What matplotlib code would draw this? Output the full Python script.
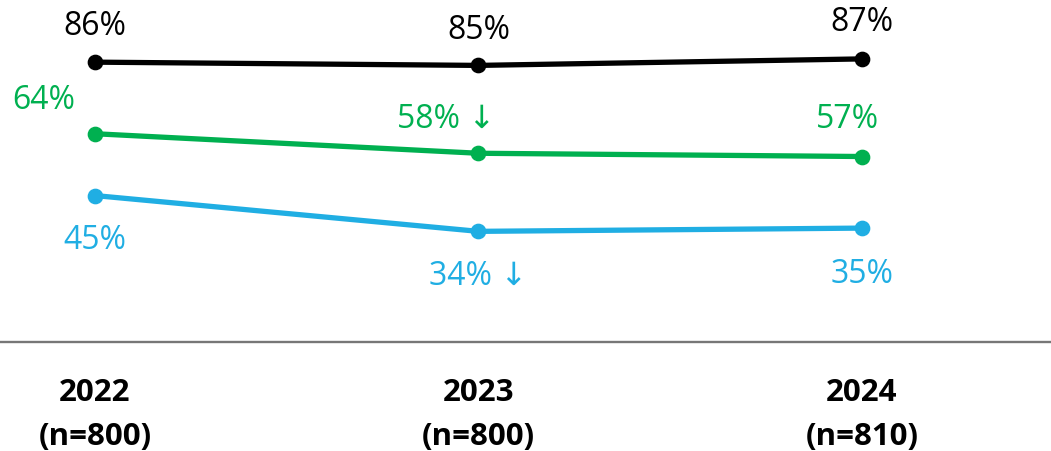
import matplotlib.pyplot as plt

plt.rcParams['font.family'] = ['Open Sans', 'DejaVu Sans']

years = ['2022', '2023', '2024']
sample_sizes = ['(n=800)', '(n=800)', '(n=810)']
black_vals = [86, 85, 87]
green_vals = [64, 58, 57]
blue_vals = [45, 34, 35]
black_labels = ['86%', '85%', '87%']
green_labels = ['64%', '58% \u2193', '57%']
blue_labels = ['45%', '34% \u2193', '35%']

BLACK = '#000000'
GREEN = '#00B050'
BLUE = '#20AEE3'

fig = plt.figure(figsize=(10.51, 4.51), dpi=100)
ax = fig.add_axes([0, 0.2417, 1, 0.7583])

x = list(range(len(years)))
for vals, col in [(black_vals, BLACK), (green_vals, GREEN), (blue_vals, BLUE)]:
    ax.plot(x, vals, color=col, lw=3.8, marker='o', markersize=10.3,
            solid_capstyle='round', zorder=3)

# label offsets in pixels (dx, dy) from each point, baseline anchored
black_off = [(0, 27), (0, 26.7), (0, 27.4)]
green_off = [(-51.5, 25.1), (-32, 25.3), (-14.7, 28.1)]
blue_off = [(0, -53.7), (0, -53.7), (0, -54.4)]

for vals, labels, offs, col in [(black_vals, black_labels, black_off, BLACK),
                                (green_vals, green_labels, green_off, GREEN),
                                (blue_vals, blue_labels, blue_off, BLUE)]:
    for xi, v, lab, (dx, dy) in zip(x, vals, labels, offs):
        ax.annotate(lab, (xi, v), xytext=(dx, dy), textcoords='offset pixels',
                    ha='center', va='baseline', fontsize=23, color=col)

ax.set_xlim(-0.2477, 2.493)
ax.set_ylim(0, 105.1)

for s in ['top', 'right', 'left']:
    ax.spines[s].set_visible(False)
ax.spines['bottom'].set_color('#777777')
ax.spines['bottom'].set_linewidth(1.7)
ax.set_yticks([])
ax.set_xticks([])

# two-line category labels under the axis line
for xi, yr, n in zip(x, years, sample_sizes):
    ax.annotate(yr, (xi, 0), xycoords=('data', 'axes fraction'),
                xytext=(0, -58.7), textcoords='offset pixels',
                ha='center', va='baseline', fontsize=22.5, fontweight='bold',
                annotation_clip=False)
    ax.annotate(n, (xi, 0), xycoords=('data', 'axes fraction'),
                xytext=(0, -103.5), textcoords='offset pixels',
                ha='center', va='baseline', fontsize=22.5, fontweight='bold',
                annotation_clip=False)

fig.savefig('out.png', dpi=100)
